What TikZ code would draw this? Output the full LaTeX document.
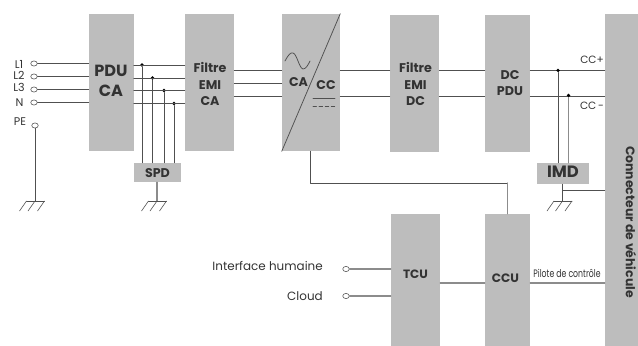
\documentclass[tikz,border=0pt]{standalone}
\usepackage{fontspec}
\setmainfont{Poppins}
\usetikzlibrary{calc, shapes.geometric}
\definecolor{boxgray}{HTML}{BDBDBD}
\definecolor{inkgray}{HTML}{333333}
\definecolor{wiregray}{HTML}{505050}
\tikzset{block/.style 2 args={fill=boxgray, draw=none, inner sep=0pt, minimum width=#1*0.03cm, minimum height=#2*0.03cm}}
\tikzset{wire/.style={wiregray, line width=0.65pt}}
\tikzset{softwire/.style={black!45, line width=0.9pt}}
\tikzset{port/.style={ellipse, draw=wiregray, fill=white, line width=0.5pt, inner sep=0pt, minimum width=5.6pt, minimum height=4.4pt}}
\tikzset{dot/.style={circle, fill=black, inner sep=0pt, minimum size=3pt}}
\tikzset{title/.style={inkgray, font=\bfseries\fontsize{10.8}{14}\selectfont, align=center}}
\tikzset{note/.style={inkgray, font=\fontsize{9.5}{10}\selectfont}}
\newcommand{\earth}[1]{%
	\draw[wire, line width=0.5pt] ($(#1)+(-8.5,0)$) -- +(18,0);
	\foreach \dx in {-8.5,0,9.5}
	{
		\draw[wire, line width=0.5pt] ($(#1)+(\dx,0)$) -- +(-7,10);
	}
}
\begin{document}
\begin{tikzpicture}[x=0.03cm, y=-0.03cm, line cap=round, line join=round]
	\useasboundingbox (0,0) rectangle (638,346);

	% Blocks
	\node[block={45}{137}] (pdu) at (111.5,82.5) {};
	\node[block={49}{137}] (emica) at (209.5,82.5) {};
	\node[block={58}{137}] (conv) at (311,82.5) {};
	\node[block={49}{137}] (emidc) at (414.5,83.5) {};
	\node[block={45}{137}] (dcpdu) at (507.5,83.5) {};
	\node[block={33}{332}] (conn) at (621.5,180) {};
	\node[block={47}{19}] (spd) at (157.5,172.5) {};
	\node[block={52}{21}] (imd) at (563,173.5) {};
	\node[block={49}{132}] (tcu) at (415.5,280) {};
	\node[block={45}{132}] (ccu) at (507.5,280) {};

	% Block Titles
	\node[title, font=\bfseries\fontsize{13.8}{17}\selectfont] (tpdu) at (111,81) {PDU\\CA};
	\node[title] (temica) at (210,84) {Filtre\\EMI\\CA};
	\node[title] (tca) at (298.5,82.5) {CA};
	\node[title] (tcc) at (326,85.5) {CC};
	\node[title] (temidc) at (415.5,84) {Filtre\\EMI\\DC};
	\node[title] (tdcpdu) at (510,83) {DC\\PDU};
	\node[title, font=\bfseries\fontsize{10.8}{12}\selectfont] (tspd) at (157.5,173.5) {SPD};
	\node[title, font=\bfseries\fontsize{14}{16}\selectfont] (timd) at (563,171.5) {IMD};
	\node[title, font=\bfseries\fontsize{10.3}{12}\selectfont] (ttcu) at (415.5,274.5) {TCU};
	\node[title, font=\bfseries\fontsize{10.4}{12}\selectfont] (tccu) at (505.5,278.5) {CCU};
	\node[title, font=\bfseries\fontsize{10.6}{12}\selectfont, rotate=-90] (tconn) at (631,222) {Connecteur de véhicule};

	% Ports
	\node[port] (pl1) at (34,63.5) {};
	\node[port] (pl2) at (34,76.5) {};
	\node[port] (pl3) at (34,89.5) {};
	\node[port] (pn) at (34,102.5) {};
	\node[port] (ppe) at (35,125.5) {};
	\node[port] (phmi) at (346,269) {};
	\node[port] (pcloud) at (346,296) {};

	% Port Labels
	\node[note] (ll1) at (19,64) {L1};
	\node[note] (ll2) at (19,75.5) {L2};
	\node[note] (ll3) at (19,87.5) {L3};
	\node[note] (ln) at (19.5,103) {N};
	\node[note] (lpe) at (20,122) {PE};
	\node[note, font=\fontsize{10.2}{11}\selectfont, anchor=east, inner sep=0pt] (lhmi) at (323,266) {Interface humaine};
	\node[note, font=\fontsize{10.2}{11}\selectfont, anchor=east, inner sep=0pt] (lcloud) at (323,296) {Cloud};
	\node[note, font=\fontsize{9}{10}\selectfont] (lplus) at (592,59.5) {CC+};
	\node[note, font=\fontsize{9}{10}\selectfont] (lminus) at (592,105.5) {CC\,-};
	\node[note, inner sep=0pt, xscale=0.72, font=\fontsize{9.2}{10}\selectfont] (lpilot) at (567,273) {Pilote de contrôle};

	% Grid Inputs
	\foreach \p in {pl1,pl2,pl3,pn}
	{
		\draw[wire] (\p) -- (\p -| pdu.west);
	}
	\coordinate (gpe) at (35,201);
	\draw[wire] (ppe) -- (gpe);
	\earth{gpe}

	% AC Bus and SPD
	\foreach \n/\x/\y in {a/142/65,b/152.5/78,c/164/90.5,d/174/103.5}
	{
		\node[dot] (s\n) at (\x,\y) {};
		\draw[wire] (pdu.west |- s\n) ++(45,0) -- (emica.west |- s\n);
		\draw[wire] (s\n) -- (s\n |- spd.north);
	}
	\coordinate (gspd) at (157,201);
	\draw[softwire] (spd.south -| gspd) -- (gspd);
	\earth{gspd}

	% Power Path
	\foreach \y in {70.5,83.5,96}
	{
		\coordinate (h) at (0,\y);
		\draw[wire] (emica.east |- h) -- (conv.west |- h);
	}
	\foreach \y in {70.5,96}
	{
		\coordinate (h) at (0,\y);
		\draw[wire] (conv.east |- h) -- (emidc.west |- h);
		\draw[wire] (emidc.east |- h) -- (dcpdu.west |- h);
		\draw[wire] (dcpdu.east |- h) -- (conn.west |- h);
	}

	% Converter Symbols
	\draw[wire] (conv.south west) -- (conv.north east);
	\draw[wire] (285,61) .. controls (288,55) and (291,52) .. (293,53) .. controls (297,54) and (299,68) .. (303,69) .. controls (306,69) and (308,65) .. (310,61);
	\draw[wire] (313,98) -- (335,98);
	\draw[wire, dashed, dash pattern=on 3pt off 2.2pt] (313,106) -- (335,106);

	% IMD
	\node[dot] (ma) at (558,70.5) {};
	\node[dot] (mb) at (568.5,95.5) {};
	\draw[wire] (ma) -- (ma |- imd.north);
	\draw[softwire] (mb) -- (mb |- imd.north);
	\coordinate (gimd) at (562.5,201);
	\draw[wire] (imd.south -| gimd) -- (gimd);
	\earth{gimd}
	\coordinate (mt) at (562.5,190.5);
	\draw[wire] (mt) -- (mt -| conn.west);

	% Control Path
	\coordinate (ct) at (507.5,183);
	\draw[wire] (conv.south) ++(-0.5,0) |- (ct);
	\draw[softwire] (ct) -- (ccu.north);
	\draw[softwire] (phmi) -- (phmi -| tcu.west);
	\draw[softwire] (pcloud) -- (pcloud -| tcu.west);
	\coordinate (cl) at (0,283);
	\draw[softwire] (tcu.east |- cl) -- (ccu.west |- cl);
	\draw[softwire] (ccu.east |- cl) -- (conn.west |- cl);
\end{tikzpicture}
\end{document}
